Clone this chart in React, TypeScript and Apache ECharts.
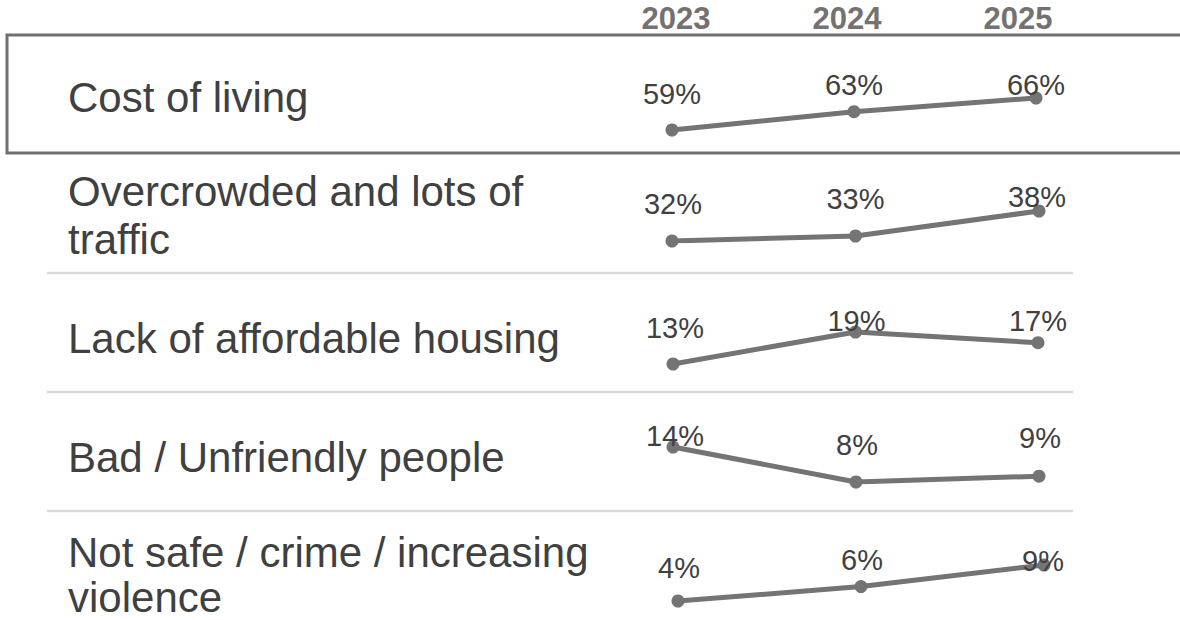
import React, { useEffect, useRef } from "react";
import * as echarts from "echarts";

// ---- data ----
const years = ["2023", "2024", "2025"];
const rowLabels = [
  "Cost of living",
  "Overcrowded and lots of\ntraffic",
  "Lack of affordable housing",
  "Bad / Unfriendly people",
  "Not safe / crime / increasing\nviolence",
];
const costOfLiving = [59, 63, 66];
const overcrowded = [32, 33, 38];
const affordableHousing = [13, 19, 17];
const unfriendlyPeople = [14, 8, 9];
const crime = [4, 6, 9];
const seriesValues = [costOfLiving, overcrowded, affordableHousing, unfriendlyPeople, crime];

// ---- layout (positions / styles only) ----
const rowGrids = [
  { left: 672, right: 144, top: 98, height: 32 },
  { left: 672, right: 141, top: 211, height: 30 },
  { left: 673, right: 142, top: 332, height: 32 },
  { left: 673, right: 141, top: 447, height: 35 },
  { left: 678, right: 136, top: 565, height: 36 },
];
const labelOffsets = [
  [[0, -36], [0, -27], [0, -13]],
  [[1, -37], [0, -37], [-2, -14]],
  [[2, -36], [1, -11], [0, -22]],
  [[2, -11], [1, -37], [1, -38]],
  [[1, -33], [1, -27], [-1, -4]],
];
// center y of first line of each row label, and line gap per row
const rowLabelY = [97, 191, 338, 457, 552];
const rowLineGap = [48, 48, 48, 48, 45];
const separatorsY = [273, 392, 511];

const LINE_COLOR = "#747474";
const TEXT_COLOR = "#404040";
const HEADER_COLOR = "#767171";
const FONT = "'Liberation Sans', Arial, sans-serif";

export default function App() {
  const ref = useRef<HTMLDivElement>(null);

  useEffect(() => {
    if (!ref.current) return;
    const chart = echarts.init(ref.current, undefined, { renderer: "svg" });

    const grids: any[] = rowGrids.map((g) => ({ ...g }));
    grids.push({ left: 676, right: 162, top: 36, height: 1 });

    const xAxes: any[] = rowGrids.map((_, i) => ({
      type: "category",
      gridIndex: i,
      data: years,
      boundaryGap: false,
      show: false,
    }));
    xAxes.push({
      type: "category",
      gridIndex: 5,
      data: years,
      boundaryGap: false,
      position: "top",
      axisLine: { show: false },
      axisTick: { show: false },
      splitLine: { show: false },
      axisLabel: {
        show: true,
        color: HEADER_COLOR,
        fontFamily: FONT,
        fontWeight: "bold",
        fontSize: 31,
        margin: 2,
      },
    });

    const yAxes: any[] = rowGrids.map((_, i) => ({
      type: "value",
      gridIndex: i,
      min: (v: any) => v.min,
      max: (v: any) => v.max,
      show: false,
      splitLine: { show: false },
    }));
    yAxes.push({ type: "value", gridIndex: 5, show: false, splitLine: { show: false } });

    const series: any[] = seriesValues.map((vals, i) => ({
      type: "line",
      xAxisIndex: i,
      yAxisIndex: i,
      data: vals.map((v, j) => ({
        value: v,
        label: { offset: labelOffsets[i][j] },
      })),
      symbol: "circle",
      symbolSize: 13,
      lineStyle: { color: LINE_COLOR, width: 5 },
      itemStyle: { color: LINE_COLOR },
      label: {
        show: true,
        position: "inside",
        formatter: (p: any) => p.value + "%",
        color: TEXT_COLOR,
        fontFamily: FONT,
        fontSize: 29,
      },
      silent: true,
    }));

    const labelTexts: any[] = [];
    rowLabels.forEach((t, i) => {
      t.split("\n").forEach((line, k) => {
        labelTexts.push({
          type: "text",
          x: 68,
          y: rowLabelY[i] + k * rowLineGap[i],
          style: {
            text: line,
            fill: TEXT_COLOR,
            fontSize: 42,
            fontFamily: FONT,
            lineHeight: 36,
            verticalAlign: "middle",
            align: "left",
          },
        });
      });
    });

    const graphics: any[] = [
      {
        type: "rect",
        shape: { x: 7, y: 35, width: 1300, height: 118 },
        style: { fill: "none", stroke: "#6f6f6f", lineWidth: 3 },
        z: -1,
      },
      ...separatorsY.map((y) => ({
        type: "line",
        shape: { x1: 47, y1: y, x2: 1073, y2: y },
        style: { stroke: "#d9d9d9", lineWidth: 2.5 },
        z: -1,
      })),
      ...labelTexts,
    ];

    chart.setOption({
      animation: false,
      backgroundColor: "#ffffff",
      grid: grids,
      xAxis: xAxes,
      yAxis: yAxes,
      series,
      graphic: graphics,
    });

    return () => chart.dispose();
  }, []);

  return (
    <div
      ref={ref}
      style={{ position: "fixed", left: 0, top: 0, width: 1180, height: 620 }}
    />
  );
}
